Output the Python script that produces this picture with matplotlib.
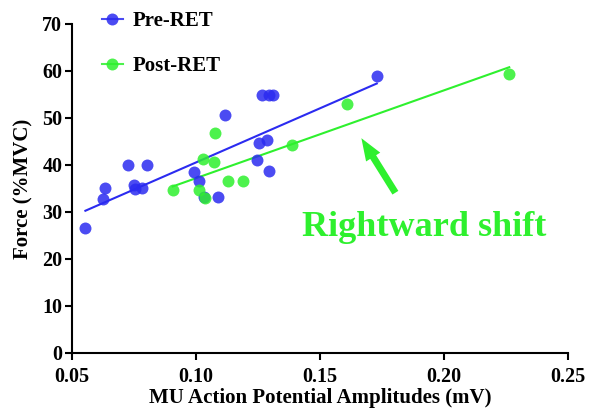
import numpy as np
import matplotlib.pyplot as plt

# MU action potential amplitude (mV) vs force (%MVC)
pre_x = [0.0554, 0.0626, 0.0633, 0.0725, 0.0749, 0.0754, 0.0781, 0.0801, 0.0992, 0.1011,
         0.1032, 0.1089, 0.1118, 0.1245, 0.1253, 0.1288, 0.1293, 0.1266, 0.1296, 0.1312, 0.1729]
pre_y = [26.6, 32.8, 35.0, 40.1, 35.8, 34.8, 35.0, 40.1, 38.5, 36.5,
         33.2, 33.2, 50.6, 41.1, 44.6, 45.4, 38.8, 54.8, 54.8, 54.8, 58.9]

post_x = [0.0906, 0.1011, 0.1027, 0.1038, 0.1073, 0.1078, 0.1130, 0.1188, 0.1386, 0.1608, 0.2263]
post_y = [34.6, 34.6, 41.3, 33.0, 40.6, 46.8, 36.6, 36.6, 44.2, 52.9, 59.3]

# regression lines (slope, intercept)
pre_fit = (230.4, 17.5)
post_fit = (186.9, 18.5)

blue = '#2b2bf0'
green = '#2ef02e'

plt.rcParams['font.family'] = ['Liberation Serif', 'DejaVu Serif']
plt.rcParams['font.weight'] = 'bold'

fig = plt.figure(figsize=(5.95, 4.17), dpi=100)
ax = fig.add_axes([0.121, 0.1535, 0.8336, 0.789])

for xs, ys, fit, c, lab in [(pre_x, pre_y, pre_fit, blue, 'Pre-RET'),
                            (post_x, post_y, post_fit, green, 'Post-RET')]:
    xl = np.array([min(xs), max(xs)])
    ax.plot(xl, fit[0] * xl + fit[1], color=c, lw=1.5, zorder=2)
    ax.plot(xs, ys, 'o', color=c, ms=8.6, alpha=0.85, mec='none', zorder=3)
    ax.plot([], [], '-o', color=c, ms=8.6, alpha=0.85, mec='none', lw=1.5, label=lab)

ax.set_xlim(0.05, 0.25)
ax.set_ylim(0, 70)
ax.set_xticks([0.05, 0.10, 0.15, 0.20, 0.25])
ax.set_xticklabels(['0.05', '0.10', '0.15', '0.20', '0.25'])
ax.set_yticks(range(0, 71, 10))
ax.spines['top'].set_visible(False)
ax.spines['right'].set_visible(False)
ax.spines['left'].set_linewidth(1.5)
ax.spines['bottom'].set_linewidth(1.5)
ax.tick_params(width=1.5, length=5, labelsize=14.5)
ax.tick_params(axis='x', pad=5)
ax.tick_params(axis='y', pad=2)
for t in ax.get_xticklabels() + ax.get_yticklabels():
    t.set_fontweight('bold')

ax.set_xlabel('MU Action Potential Amplitudes (mV)', fontsize=15, fontweight='bold', labelpad=1)
ax.set_ylabel('Force (%MVC)', fontsize=15, fontweight='bold', labelpad=6)

leg = ax.legend(loc='upper left', bbox_to_anchor=(0.06, 1.04), frameon=False,
                prop={'weight': 'bold', 'size': 15}, labelspacing=1.2,
                handlelength=1.0, handletextpad=0.5, borderpad=0, borderaxespad=0)

ax.annotate('', xy=(0.1661, 46.2), xytext=(0.1810, 33.6),
            arrowprops=dict(arrowstyle='simple,head_width=1.2,head_length=1.6,tail_width=0.5',
                            color=green, lw=0))
ax.text(0.1919, 26.6, 'Rightward shift', color=green, fontsize=26,
        fontweight='bold', ha='center', va='center')

fig.savefig('out.png', dpi=100)
